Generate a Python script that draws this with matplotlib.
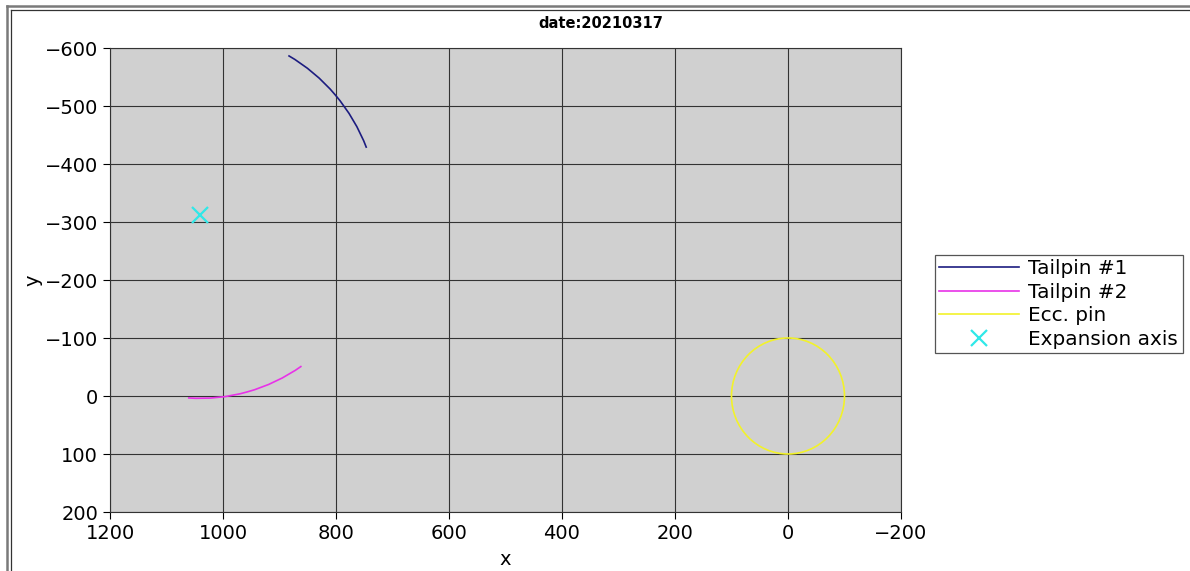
import matplotlib.pyplot as plt
from matplotlib.patches import Arc, Circle
from matplotlib.lines import Line2D

# values
title = "date:20210317"
series_labels = ["Tailpin #1", "Tailpin #2", "Ecc. pin", "Expansion axis"]

# expansion axis (the two tailpins run on arcs around it)
axis_x = [1040]
axis_y = [-312]
tailpin_radius = 316
tailpin1_angles = [201.5, 240.5]   # degrees, data space
tailpin2_angles = [86.0, 124.5]

# eccentric pin circle
ecc_center = (0, 0)
ecc_radius = 100

x_ticks = [1200, 1000, 800, 600, 400, 200, 0, -200]
y_ticks = [-600, -500, -400, -300, -200, -100, 0, 100, 200]

c_tp1 = "#1c1c80"
c_tp2 = "#e832e8"
c_ecc = "#f2f22a"
c_axis = "#30e8e8"

fig = plt.figure(figsize=(11.9, 5.71), dpi=100)
ax = fig.add_axes([110 / 1190, 1 - 512 / 571, 791 / 1190, 464 / 571])
ax.set_facecolor("#d0d0d0")

ax.add_patch(Arc((axis_x[0], axis_y[0]), 2 * tailpin_radius, 2 * tailpin_radius,
                 theta1=tailpin1_angles[0], theta2=tailpin1_angles[1],
                 color=c_tp1, lw=1.2, zorder=3))
ax.add_patch(Arc((axis_x[0], axis_y[0]), 2 * tailpin_radius, 2 * tailpin_radius,
                 theta1=tailpin2_angles[0], theta2=tailpin2_angles[1],
                 color=c_tp2, lw=1.2, zorder=3))
ax.add_patch(Circle(ecc_center, ecc_radius, fill=False, edgecolor=c_ecc, lw=1.2, zorder=3))
ax.plot(axis_x, axis_y, "x", color=c_axis, ms=12, mew=1.6, zorder=4)

ax.set_xlim(x_ticks[0], x_ticks[-1])
ax.set_ylim(y_ticks[-1], y_ticks[0])
ax.set_xticks(x_ticks)
ax.set_yticks(y_ticks)
ax.tick_params(labelsize=14, length=5, width=0.8)
ax.grid(True, color="#333333", lw=0.8)
ax.set_axisbelow(True)
for s in ax.spines.values():
    s.set_color("#333333")
    s.set_linewidth(0.8)

ax.set_xlabel("x", fontsize=14, labelpad=5)
ax.set_ylabel("y", fontsize=14, labelpad=2)
fig.suptitle(title, fontsize=10.5, fontweight="bold", x=0.505, y=1 - 23 / 571, va="center")

handles = [
    Line2D([], [], color=c_tp1, lw=1.2),
    Line2D([], [], color=c_tp2, lw=1.2),
    Line2D([], [], color=c_ecc, lw=1.2),
    Line2D([], [], color=c_axis, ls="none", marker="x", ms=12, mew=1.6),
]
leg = fig.legend(handles, series_labels, loc="center left",
                 bbox_to_anchor=(935 / 1190, 1 - 304 / 571), fontsize=14.4,
                 handlelength=4.0, labelspacing=0.22, borderpad=0.22,
                 handletextpad=0.45, borderaxespad=0, fancybox=False,
                 framealpha=1, edgecolor="#555555")
leg.get_frame().set_linewidth(0.9)

# screenshot window frame (left and top double lines)
fig.add_artist(Line2D([7 / 1190, 7 / 1190], [0, 1 - 6 / 571], transform=fig.transFigure,
                      color="#7a7a7a", lw=1.8))
fig.add_artist(Line2D([11 / 1190, 11 / 1190], [0, 1 - 10 / 571], transform=fig.transFigure,
                      color="#333333", lw=0.9))
fig.add_artist(Line2D([7 / 1190, 1], [1 - 6 / 571, 1 - 6 / 571], transform=fig.transFigure,
                      color="#7a7a7a", lw=1.8))
fig.add_artist(Line2D([11 / 1190, 1], [1 - 10 / 571, 1 - 10 / 571], transform=fig.transFigure,
                      color="#333333", lw=0.9))

fig.savefig("out.png", dpi=100)
